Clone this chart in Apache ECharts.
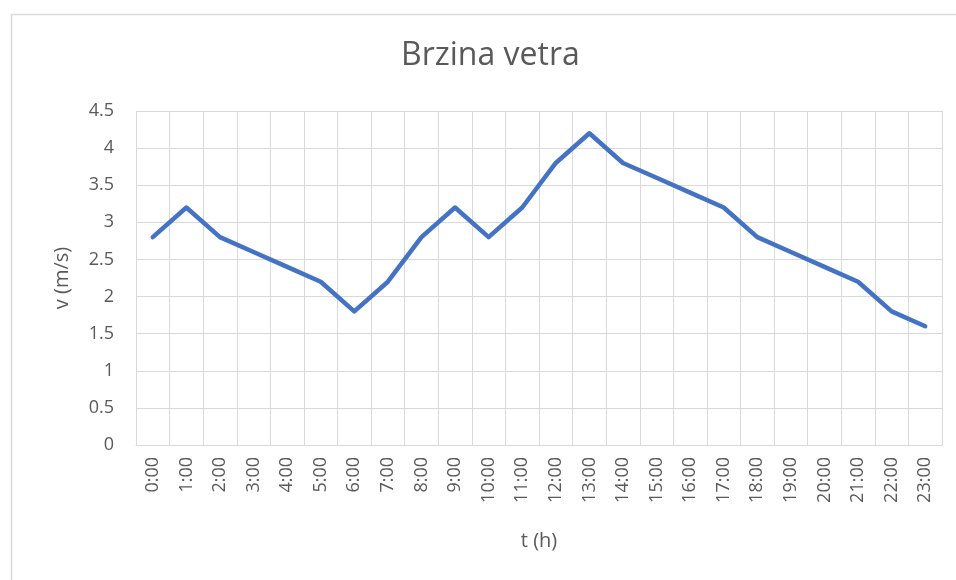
<!DOCTYPE html>
<html>
<head>
<meta charset="utf-8">
<script src="https://cdn.jsdelivr.net/npm/echarts@6/dist/echarts.min.js"></script>
<style>html,body{margin:0;padding:0;background:#fff}#c{width:956px;height:580px}</style>
</head>
<body>
<div id="c"></div>
<script>
var categories = ['0:00','1:00','2:00','3:00','4:00','5:00','6:00','7:00','8:00','9:00','10:00','11:00','12:00','13:00','14:00','15:00','16:00','17:00','18:00','19:00','20:00','21:00','22:00','23:00'];
var speeds = [2.8,3.2,2.8,2.6,2.4,2.2,1.8,2.2,2.8,3.2,2.8,3.2,3.8,4.2,3.8,3.6,3.4,3.2,2.8,2.6,2.4,2.2,1.8,1.6];
var titleText = 'Brzina vetra';
var xName = 't (h)';
var yName = 'v (m/s)';

var font = '"Open Sans", "Noto Sans", sans-serif';
var chart = echarts.init(document.getElementById('c'), null, {renderer: 'canvas'});
chart.setOption({
  animation: false,
  backgroundColor: '#ffffff',
  graphic: [{
    type: 'rect', left: 9, top: 12, shape: {x: 0, y: 0, width: 960, height: 580},
    style: {fill: 'none', stroke: '#d9d9d9', lineWidth: 1.5}, silent: true, z: -1
  }],
  title: {
    text: titleText, left: 396, top: 35,
    textStyle: {fontFamily: font, fontSize: 32, fontWeight: 'normal', color: '#595959'}
  },
  grid: {left: 136, top: 111, right: 14, bottom: 135, containLabel: false},
  xAxis: {
    type: 'category', data: categories, boundaryGap: true,
    name: xName, nameLocation: 'middle', nameGap: 86,
    nameTextStyle: {fontFamily: font, fontSize: 20, color: '#595959'},
    axisLine: {show: true, lineStyle: {color: '#d9d9d9', width: 1}},
    axisTick: {show: false},
    splitLine: {show: true, lineStyle: {color: '#d9d9d9', width: 1}},
    axisLabel: {rotate: 90, interval: 0, margin: 12, fontFamily: font, fontSize: 18, color: '#595959'}
  },
  yAxis: {
    type: 'value', min: 0, max: 4.5, interval: 0.5,
    name: yName, nameLocation: 'middle', nameGap: 64,
    nameTextStyle: {fontFamily: font, fontSize: 20, color: '#595959'},
    axisLine: {show: false}, axisTick: {show: false},
    splitLine: {show: true, lineStyle: {color: '#d9d9d9', width: 1}},
    axisLabel: {margin: 22, fontFamily: font, fontSize: 18, color: '#595959'}
  },
  series: [{
    type: 'line', data: speeds, symbol: 'none',
    lineStyle: {color: '#4472C4', width: 4.5, cap: 'round', join: 'round'}
  }]
});
</script>
</body>
</html>
